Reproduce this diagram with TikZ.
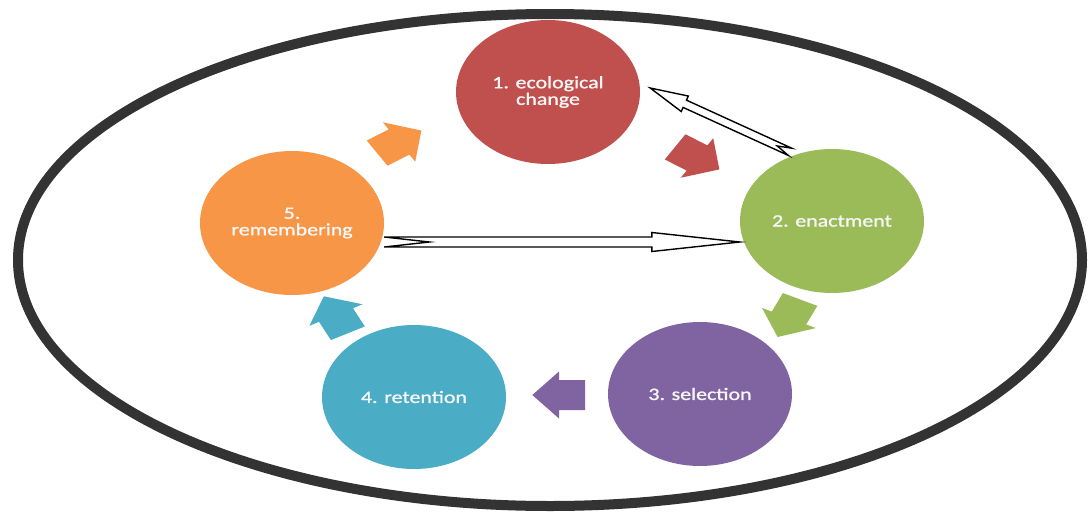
\documentclass[tikz,border=0pt]{standalone}
\usepackage{fontspec}
\newfontfamily\lbl[FakeStretch=1.26,FakeBold=1.2]{Carlito}
\usetikzlibrary{shapes.geometric,calc}
\definecolor{cRed}{HTML}{C0504D}
\definecolor{cGreen}{HTML}{9BBB59}
\definecolor{cPurple}{HTML}{8064A2}
\definecolor{cTeal}{HTML}{4BACC6}
\definecolor{cOrange}{HTML}{F79646}
\definecolor{cFrame}{HTML}{333333}
\definecolor{cText}{HTML}{F6F6F6}
\newcommand\blockarrow[3]{%
  \fill[#3, shift={#1}, xscale=1.27, rotate=#2]
    (-20.5,-15) -- (0,-15) -- (0,-23.5) -- (21,0) -- (0,23.5) -- (0,15) -- (-20.5,15) -- cycle;}
\newcommand\notched[6]{%
  \path[outarrow] let \p1=($(#2)-(#1)$), \n1={atan2(\y1,\x1)}, \n2={veclen(\x1,\y1)} in
    ($(#1)+(\n1+90:#3)$)
    -- ($(#1)+(\n1:\n2-#5)+(\n1+90:#3)$)
    -- ($(#1)+(\n1:\n2-#5)+(\n1+90:#4)$)
    -- (#2)
    -- ($(#1)+(\n1:\n2-#5)+(\n1-90:#4)$)
    -- ($(#1)+(\n1:\n2-#5)+(\n1-90:#3)$)
    -- ($(#1)+(\n1-90:#3)$)
    -- ($(#1)+(\n1:#6)$)
    -- cycle;}
\begin{document}
\begin{tikzpicture}[x=1pt,y=-1pt,
  stage/.style={ellipse, minimum width=184pt, minimum height=144pt, inner sep=0pt,
    text=cText, align=center, font=\lbl\fontsize{17.4}{16.6}\selectfont},
  outarrow/.style={draw=black, fill=white, line width=1.4pt, line join=miter},
  frame/.style={draw=cFrame, line width=10pt}]
\useasboundingbox (0,0) rectangle (1090,514);
\fill[white] (0,0) rectangle (1090,514);
\draw[frame] (550,260) ellipse [x radius=532, y radius=246];

\node[stage, fill=cRed]    (eco) at (548,92)  {1. ecological\\change};
\node[stage, fill=cGreen]  (ena) at (832,221) {2. enactment};
\node[stage, fill=cPurple] (sel) at (700,394) {3. selection};
\node[stage, fill=cTeal]   (ret) at (414,397) {4. retention};
\node[stage, fill=cOrange] (rem) at (292,223) {5.\\remembering};

\blockarrow{($(eco)!0.5!(ena)+(7,1.5)$)}{-32.9}{cRed}
\blockarrow{($(ena)!0.5!(sel)+(23,10.5)$)}{-115.3}{cGreen}
\blockarrow{($(sel)!0.5!(ret)+(2,-0.5)$)}{180}{cPurple}
\blockarrow{($(ret)!0.5!(rem)+(-17,5)$)}{117.1}{cTeal}
\blockarrow{($(rem)!0.5!(eco)+(-21,-15.5)$)}{32.9}{cOrange}

\coordinate (hs) at ($(rem.east)+(0,19)$);
\coordinate (he) at ($(ena.west)+(0,21)$);
\coordinate (ds) at ($(ena.north)+(-42,3)$);
\coordinate (de) at ($(eco.east)+(10,-4)$);
\notched{hs}{he}{5pt}{9.5pt}{88pt}{45pt}
\notched{ds}{de}{4pt}{8.5pt}{38pt}{14pt}
\end{tikzpicture}
\end{document}
